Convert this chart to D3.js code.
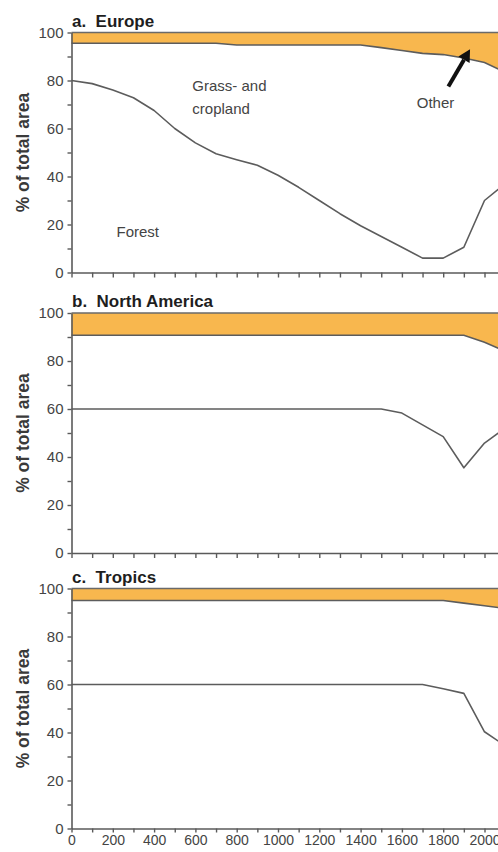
<!DOCTYPE html>
<html><head><meta charset="utf-8">
<script src="https://cdn.jsdelivr.net/npm/d3@7"></script>
<style>
html,body{margin:0;padding:0;background:#fff;}
svg{display:block;}
text{font-family:"Liberation Sans",Arial,sans-serif;}
.title{white-space:pre;}
</style></head>
<body>
<svg id="chart" width="498" height="852"></svg>
<script>
// ---- data ----
const years = d3.range(0, 2101, 100);
const panelTitles = ["a.  Europe", "b.  North America", "c.  Tropics"];
const yTickValues = [0, 10, 20, 30, 40, 50, 60, 70, 80, 90, 100];
const yTickLabels = [0, 20, 40, 60, 80, 100];
const xTickValues = d3.range(0, 2101, 100);
const xTickLabels = [0, 200, 400, 600, 800, 1000, 1200, 1400, 1600, 1800, 2000];

const europeForest = [80, 78.7, 76, 72.8, 67.5, 60, 54, 49.5, 47, 44.7, 40.5, 35.5, 30, 24.5, 19.5, 15, 10.5, 6, 6, 10.5, 30, 37];
const europeOther  = [95.5, 95.5, 95.5, 95.5, 95.5, 95.5, 95.5, 95.5, 94.8, 94.8, 94.8, 94.8, 94.8, 94.8, 94.8, 93.7, 92.5, 91.3, 90.8, 89.4, 87.5, 83.5];
const naForest     = [60, 60, 60, 60, 60, 60, 60, 60, 60, 60, 60, 60, 60, 60, 60, 60, 58.3, 53.4, 48.5, 35.5, 45.8, 52];
const naOther      = [90.7, 90.7, 90.7, 90.7, 90.7, 90.7, 90.7, 90.7, 90.7, 90.7, 90.7, 90.7, 90.7, 90.7, 90.7, 90.7, 90.7, 90.7, 90.7, 90.7, 87.8, 84];
const tropForest   = [60, 60, 60, 60, 60, 60, 60, 60, 60, 60, 60, 60, 60, 60, 60, 60, 60, 60, 58.2, 56.3, 40.3, 34.5];
const tropOther    = [95, 95, 95, 95, 95, 95, 95, 95, 95, 95, 95, 95, 95, 95, 95, 95, 95, 95, 95, 93.9, 92.8, 91.7];

const panels = [
  {title: panelTitles[0], forest: europeForest, other: europeOther},
  {title: panelTitles[1], forest: naForest, other: naOther},
  {title: panelTitles[2], forest: tropForest, other: tropOther}
];

// ---- layout ----
const svg = d3.select("#chart");
const left = 71.5;
const pxPerYear = 0.2065;
const x = d3.scaleLinear().domain([0, 2100]).range([left, left + 2100 * pxPerYear]);
const tops = [32.5, 313, 588.5];
const ph = 240;
const orange = "#f8b74e";
const lineCol = "#5c5c5c";
const axisCol = "#5a5a5a";
const textCol = "#3a3a3a";

panels.forEach((p, i) => {
  const y = d3.scaleLinear().domain([0, 100]).range([tops[i] + ph, tops[i]]);
  const g = svg.append("g");
  const pts = years.map((yr, k) => ({yr, f: p.forest[k], o: p.other[k]}));

  // Other band (orange)
  g.append("path").datum(pts)
    .attr("fill", orange)
    .attr("d", d3.area().x(d => x(d.yr)).y0(y(100)).y1(d => y(d.o)));
  // boundary between grass/cropland and other
  g.append("path").datum(pts)
    .attr("fill", "none").attr("stroke", lineCol).attr("stroke-width", 1.6)
    .attr("d", d3.line().x(d => x(d.yr)).y(d => y(d.o)));
  // top line at 100
  g.append("path").datum(pts)
    .attr("fill", "none").attr("stroke", "#6a6a6a").attr("stroke-width", 1.6)
    .attr("d", d3.line().x(d => x(d.yr)).y(() => y(100)));
  // forest line
  g.append("path").datum(pts)
    .attr("fill", "none").attr("stroke", lineCol).attr("stroke-width", 1.6)
    .attr("stroke-linejoin", "round")
    .attr("d", d3.line().x(d => x(d.yr)).y(d => y(d.f)));

  // y axis
  const ya = g.append("g").attr("transform", `translate(${left},0)`)
    .call(d3.axisLeft(y).tickValues(yTickValues).tickSize(4).tickSizeOuter(0).tickPadding(4)
      .tickFormat(v => yTickLabels.includes(v) ? v : ""));
  ya.select(".domain").attr("stroke", axisCol).attr("stroke-width", 1.6);
  ya.selectAll(".tick line").attr("stroke", axisCol).attr("stroke-width", 1.4);
  ya.selectAll(".tick text").attr("fill", "#444").style("font-size", "15px")
    .attr("font-family", "Liberation Sans, Arial, sans-serif");

  // x axis
  const xa = g.append("g").attr("transform", `translate(0,${y(0)})`)
    .call(d3.axisBottom(x).tickValues(xTickValues).tickSize(i === 2 ? 4 : 5).tickSizeOuter(0).tickPadding(3)
      .tickFormat(v => (i === 2 && xTickLabels.includes(v)) ? v : ""));
  xa.select(".domain").attr("stroke", axisCol).attr("stroke-width", 1.6);
  xa.selectAll(".tick line").attr("stroke", axisCol).attr("stroke-width", 1.4);
  xa.selectAll(".tick text").attr("fill", "#444").style("font-size", "14px")
    .attr("font-family", "Liberation Sans, Arial, sans-serif");

  // panel title
  g.append("text").attr("class", "title").attr("x", left + 0.5).attr("y", tops[i] - 6)
    .attr("fill", "#1e1e1e").style("font-size", "17px").style("font-weight", "bold")
    .text(p.title);

  // y label
  g.append("text")
    .attr("transform", `translate(29,${tops[i] + ph / 2}) rotate(-90)`)
    .attr("text-anchor", "middle")
    .attr("fill", textCol).style("font-size", "17.5px").style("font-weight", "bold")
    .text("% of total area");

  if (i === 0) {
    const lab = g.append("g").attr("fill", "#444").style("font-size", "15px");
    lab.append("text").attr("x", x(585)).attr("y", y(75.5)).text("Grass- and");
    lab.append("text").attr("x", x(585)).attr("y", y(66)).text("cropland");
    lab.append("text").attr("x", x(218)).attr("y", y(15)).text("Forest");
    lab.append("text").attr("x", x(1672)).attr("y", y(68.5)).text("Other");
    // arrow
    const x1 = x(1825), y1 = y(77.5), x2 = x(1930), y2 = y(93);
    const ang = Math.atan2(y2 - y1, x2 - x1);
    const hl = 12, hw = 6.5;
    const bx = x2 - hl * Math.cos(ang), by = y2 - hl * Math.sin(ang);
    g.append("line").attr("x1", x1).attr("y1", y1).attr("x2", bx).attr("y2", by)
      .attr("stroke", "#111").attr("stroke-width", 4);
    g.append("path")
      .attr("d", `M${x2},${y2} L${bx + hw * Math.sin(ang)},${by - hw * Math.cos(ang)} L${bx - hw * Math.sin(ang)},${by + hw * Math.cos(ang)} Z`)
      .attr("fill", "#111");
  }
});
</script>
</body></html>
